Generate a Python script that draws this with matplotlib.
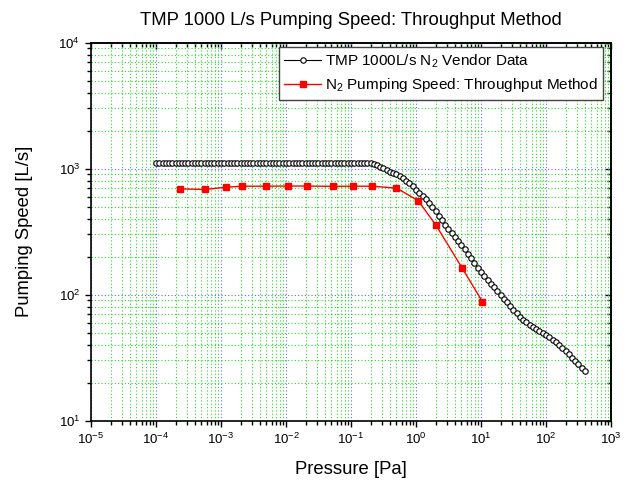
import numpy as np
import matplotlib
matplotlib.use("Agg")
import matplotlib.pyplot as plt
from matplotlib.ticker import LogLocator, NullFormatter

plt.rcParams["font.family"] = ["Liberation Sans", "DejaVu Sans"]
plt.rcParams["mathtext.fontset"] = "custom"
plt.rcParams["mathtext.rm"] = "Liberation Sans"

# vendor curve, ~20 points per decade from 1e-4 Pa to 400 Pa
vendor_p = [
    1.00e-4, 1.12e-4, 1.26e-4, 1.41e-4, 1.58e-4, 1.78e-4, 2.00e-4, 2.24e-4, 2.51e-4, 2.82e-4,
    3.16e-4, 3.55e-4, 3.98e-4, 4.47e-4, 5.01e-4, 5.62e-4, 6.31e-4, 7.08e-4, 7.94e-4, 8.91e-4,
    1.00e-3, 1.12e-3, 1.26e-3, 1.41e-3, 1.58e-3, 1.78e-3, 2.00e-3, 2.24e-3, 2.51e-3, 2.82e-3,
    3.16e-3, 3.55e-3, 3.98e-3, 4.47e-3, 5.01e-3, 5.62e-3, 6.31e-3, 7.08e-3, 7.94e-3, 8.91e-3,
    1.00e-2, 1.12e-2, 1.26e-2, 1.41e-2, 1.58e-2, 1.78e-2, 2.00e-2, 2.24e-2, 2.51e-2, 2.82e-2,
    3.16e-2, 3.55e-2, 3.98e-2, 4.47e-2, 5.01e-2, 5.62e-2, 6.31e-2, 7.08e-2, 7.94e-2, 8.91e-2,
    0.100, 0.112, 0.126, 0.141, 0.158, 0.178, 0.200, 0.224, 0.251, 0.282,
    0.316, 0.355, 0.398, 0.447, 0.501, 0.562, 0.631, 0.708, 0.794, 0.891,
    1.00, 1.12, 1.26, 1.41, 1.58, 1.78, 2.00, 2.24, 2.51, 2.82,
    3.16, 3.55, 3.98, 4.47, 5.01, 5.62, 6.31, 7.08, 7.94, 8.91,
    10.0, 11.2, 12.6, 14.1, 15.8, 17.8, 20.0, 22.4, 25.1, 28.2,
    31.6, 35.5, 39.8, 44.7, 50.1, 56.2, 63.1, 70.8, 79.4, 89.1,
    100, 112, 126, 141, 158, 178, 200, 224, 251, 282,
    316, 355, 398,
]
vendor_s = [
    1100, 1100, 1100, 1100, 1100, 1100, 1100, 1100, 1100, 1100,
    1100, 1100, 1100, 1100, 1100, 1100, 1100, 1100, 1100, 1100,
    1100, 1100, 1100, 1100, 1100, 1100, 1100, 1100, 1100, 1100,
    1100, 1100, 1100, 1100, 1100, 1100, 1100, 1100, 1100, 1100,
    1100, 1100, 1100, 1100, 1100, 1100, 1100, 1100, 1100, 1100,
    1100, 1100, 1100, 1100, 1100, 1100, 1100, 1100, 1100, 1100,
    1100, 1100, 1100, 1100, 1100, 1100, 1100, 1084, 1060, 1035,
    1007, 977, 948, 922, 902, 871, 836, 804, 767, 733,
    676, 638, 603, 569, 535, 495, 457, 422, 389, 356,
    330, 309, 287, 266, 248, 229, 211, 195, 179, 164,
    151, 141, 131, 122, 114, 107, 99.5, 92.9, 87.1, 81.3,
    75.9, 70.8, 66.8, 63.1, 60.3, 57.5, 55.0, 53.1, 51.3, 49.5,
    47.9, 45.9, 43.9, 41.9, 39.8, 37.8, 35.6, 33.5, 31.6, 29.6,
    27.9, 26.3, 24.8,
]

# throughput-method measurement
meas_p = [2.3e-4, 5.7e-4, 1.2e-3, 2.1e-3, 5.0e-3, 1.07e-2, 2.1e-2, 5.2e-2,
          0.108, 0.213, 0.50, 1.08, 2.03, 5.15, 10.5]
meas_s = [690, 683, 712, 725, 725, 727, 727, 723, 725, 725, 700, 557, 355, 162, 88]

fig = plt.figure(figsize=(6.32, 4.82), dpi=100)
ax = fig.add_axes([91/632, 1 - 420.6/482, 520/632, 378/482])
ax.set_xscale("log"); ax.set_yscale("log")
ax.set_xlim(1e-5, 1e3); ax.set_ylim(10, 1e4)

ax.plot(vendor_p, vendor_s, color="black", lw=0.8, marker="o", ms=3.9,
        mfc="white", mec="black", mew=0.8, zorder=3,
        label="TMP 1000L/s N$_2$ Vendor Data")
ax.plot(meas_p, meas_s, color="red", lw=1.0, marker="s", ms=4.3,
        mfc="red", mec="red", zorder=4,
        label="N$_2$ Pumping Speed: Throughput Method")

for a in (ax.xaxis, ax.yaxis):
    a.set_major_locator(LogLocator(base=10, numticks=20))
    a.set_minor_locator(LogLocator(base=10, subs=np.arange(2, 10), numticks=20))
    a.set_minor_formatter(NullFormatter())
ax.grid(which="minor", color="#22dd22", lw=0.8, ls=(0, (1, 2)))
ax.grid(which="major", color="#6666ff", lw=0.8, ls=(0, (1, 2)))
ax.set_axisbelow(True)

ax.tick_params(which="both", direction="out", labelsize=9.5, width=1)
ax.tick_params(which="major", length=4.3)
ax.tick_params(which="minor", length=2.9)
for s in ax.spines.values():
    s.set_linewidth(1.2)

top = ax.secondary_xaxis("top")
right = ax.secondary_yaxis("right")
for sec, axis in ((top, top.xaxis), (right, right.yaxis)):
    axis.set_major_locator(LogLocator(base=10, numticks=20))
    axis.set_minor_locator(LogLocator(base=10, subs=np.arange(2, 10), numticks=20))
    axis.set_minor_formatter(NullFormatter())
    sec.tick_params(which="both", direction="in", labeltop=False, labelright=False, width=1)
    sec.tick_params(which="major", length=4.3)
    sec.tick_params(which="minor", length=2.9)
    for s in sec.spines.values():
        s.set_linewidth(1.2)

ax.set_xlabel("Pressure [Pa]", fontsize=13.3, labelpad=10)
ax.set_ylabel("Pumping Speed [L/s]", fontsize=13.3, labelpad=18)
ax.set_title("TMP 1000 L/s Pumping Speed: Throughput Method", fontsize=13.3, pad=13)

leg = ax.legend(loc="upper right", bbox_to_anchor=(0.985, 0.988), borderaxespad=0,
                fontsize=11, numpoints=1, handlelength=2.4, handletextpad=0.25,
                fancybox=False, framealpha=1, edgecolor="#444444",
                borderpad=0.35, labelspacing=0.4)
leg.get_frame().set_linewidth(1.0)
leg.set_zorder(10)

fig.savefig("out.png", dpi=100, facecolor="white")
